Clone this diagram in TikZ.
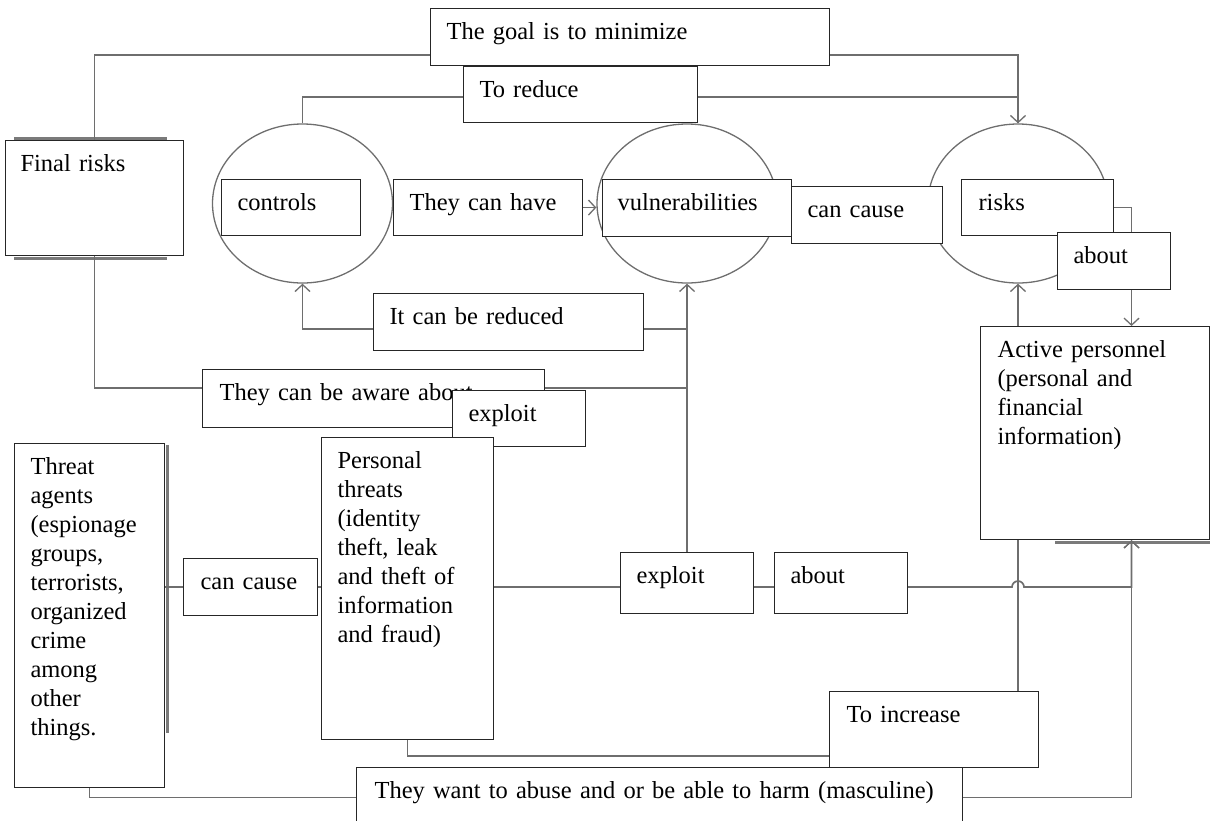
\documentclass[tikz,border=0pt]{standalone}
\usepackage{fontspec}
\setmainfont{Liberation Serif}
\usetikzlibrary{arrows.meta,shapes.geometric}
\definecolor{linec}{HTML}{6E6E6E}
\definecolor{boxc}{HTML}{262626}
\definecolor{circc}{HTML}{6E6E6E}
\definecolor{shadc}{HTML}{7A7A7A}
\pgfdeclarelayer{bg}
\pgfsetlayers{bg,main}
\tikzset{
  bx/.style={draw=boxc, line width=1.1pt, fill=white, anchor=north west,
    inner xsep=16pt, inner ysep=0pt, text height=31pt, align=left,
    font=\fontsize{24.5}{29}\selectfont,
    execute at begin node={\hyphenpenalty=10000\exhyphenpenalty=10000}},
  conn/.style={draw=linec, line width=1.7pt},
  arr/.style={conn, -{Straight Barb[length=7pt,width=15pt,line width=1.3pt]}},
  circ/.style={ellipse, draw=circc, line width=1.3pt, minimum width=180pt,
    minimum height=159pt, inner sep=0pt},
  shadowline/.style={draw=shadc, line width=3pt}
}
\begin{document}
\begin{tikzpicture}[x=1pt,y=-1pt]
\clip (0,0) rectangle (1215,820);
% circles
\node[circ] (controlsC) at (302.5,203.5) {};
\node[circ] (vulnC) at (687,203.5) {};
\node[circ] (risksC) at (1018,203.5) {};
% boxes
\node[bx, text width=367pt, text depth=26pt] (goal) at (430,8) {The goal is to minimize};
\node[bx, text width=202pt, text depth=25pt] (reduce) at (463,66) {To reduce};
\node[bx, text width=148pt, text depth=84pt, inner xsep=15pt] (final) at (5,140) {Final~risks};
\node[bx, text width=107pt, text depth=25pt] (controls) at (221,179) {controls};
\node[bx, text width=157pt, text depth=25pt] (canhave) at (393,179) {They~can~have};
\node[bx, text width=159pt, text depth=26pt, inner xsep=15pt] (vuln) at (602,179) {vulnerabilities};
\node[bx, text width=119pt, text depth=26pt] (cancauseA) at (791,186) {can~cause};
\node[bx, text width=118pt, text depth=25pt, inner xsep=17pt] (risks) at (961,179) {risks};
\node[bx, text width=81pt, text depth=26pt] (aboutA) at (1057,232) {about};
\node[bx, text width=238pt, text depth=26pt] (reduced) at (373,293) {It can be reduced};
\node[bx, text width=308pt, text depth=27pt, inner xsep=17pt] (aware) at (202,369) {They can be aware about};
\node[bx, text width=101pt, text depth=25pt] (exploitA) at (452,390) {exploit};
\node[bx, text width=118pt, text depth=313pt] (threat) at (14,443) {Threat\\agents\\(espionage\\groups,\\terrorists,\\organized\\crime\\among\\other\\things.};
\node[bx, text width=100pt, text depth=26pt, inner xsep=17pt] (cancauseB) at (183,558) {can~cause};
\node[bx, text width=140pt, text depth=271pt] (personal) at (321,437) {Personal\\threats\\(identity\\theft,~leak\\and~theft~of\\information\\and~fraud)};
\node[bx, text width=101pt, text depth=30pt] (exploitB) at (620,552) {exploit};
\node[bx, text width=101pt, text depth=30pt] (aboutB) at (774,552) {about};
\node[bx, text width=195pt, text depth=182pt, inner xsep=17pt] (active) at (980,326) {Active~personnel\\(personal~and\\financial\\information)};
\node[bx, text width=175pt, text depth=45pt, inner xsep=17pt] (increase) at (829,691) {To increase};
\node[bx, text width=570pt, text depth=29pt, inner xsep=18pt] (abuse) at (356,767) {They~want~to~abuse~and~or~be~able~to~harm~(masculine)};
% helper coordinates
\coordinate (actTop) at ([xshift=36.5pt]active.north);
\coordinate (actBot) at ([xshift=36.5pt]active.south);
\coordinate (redL) at ([yshift=-36pt]reduced.north west);
\coordinate (redR) at ([yshift=-36pt]reduced.north east);
\coordinate (awareL) at ([yshift=-19pt]aware.north west);
\coordinate (awareR) at ([yshift=-19pt]aware.north east);
\coordinate (incL) at ([yshift=12pt]increase.south west);
\path (risksC.south |- cancauseB.west) coordinate (jc);
\begin{pgfonlayer}{bg}
% shadow strips
\draw[shadowline] ([xshift=9pt,yshift=2pt]final.north west) -- ([xshift=-17pt,yshift=2pt]final.north east);
\draw[shadowline] ([xshift=9pt,yshift=-2pt]final.south west) -- ([xshift=-17pt,yshift=-2pt]final.south east);
\draw[shadowline] ([xshift=2pt,yshift=-2pt]threat.north east) -- ([xshift=2pt,yshift=55pt]threat.south east);
\draw[shadowline] ([xshift=75pt,yshift=-2pt]active.south west) -- ([yshift=-2pt]active.south east);
% connectors
\draw[conn] ([yshift=-47pt]goal.north west) -| (final.north);
\draw[arr] ([yshift=-47pt]goal.north east) -| (risksC.north);
\draw[conn] ([yshift=-31pt]reduce.north west) -| (controlsC.north);
\draw[conn] ([yshift=-31pt]reduce.north east) -| (risksC.north);
\draw[arr] (canhave.east) -- (canhave.east -| vulnC.west);
\draw[arr] (risks.east) -| (actTop);
\draw[arr] (risksC.south |- active.north) -- (risksC.south);
\draw[arr] (redL) -| (controlsC.south);
\draw[conn] (redR) -- (redR -| vulnC.south);
\draw[arr] (exploitB.north) -- (exploitB.north |- vulnC.south);
\draw[conn] (final.south) |- (awareL);
\draw[conn] (awareR) -- (awareR -| exploitB.north);
\draw[conn] (threat.east |- cancauseB.west) -- (cancauseB.west);
\draw[conn] (cancauseB.east) -- (cancauseB.east -| personal.west);
\draw[conn] (personal.east |- cancauseB.west) -- (exploitB.west |- cancauseB.west);
\draw[conn] (exploitB.east |- cancauseB.west) -- (aboutB.west |- cancauseB.west);
\draw[arr] (aboutB.east |- cancauseB.west) -- ([xshift=-6pt]jc) arc[start angle=180,end angle=0,radius=6pt] -- (actBot |- cancauseB.west) -- (actBot);
\draw[conn] (risksC.south |- increase.north) -- (risksC.south |- active.south);
\draw[conn] (personal.south) |- (incL);
\draw[conn] (threat.south) |- (abuse.west);
\draw[arr] (abuse.east) -| (actBot);
\end{pgfonlayer}
\end{tikzpicture}
\end{document}
